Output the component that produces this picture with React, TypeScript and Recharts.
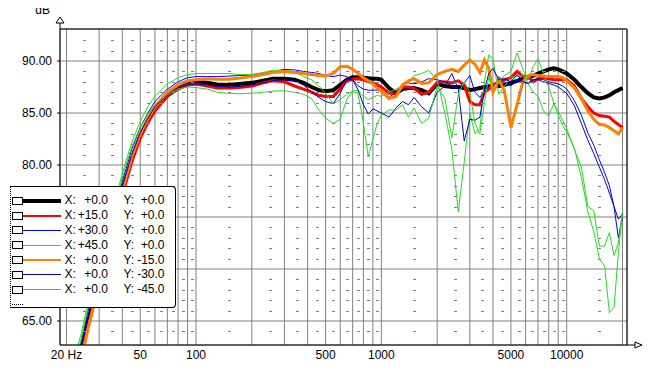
import {
  ComposedChart, Line, Scatter, XAxis, YAxis, CartesianGrid, Legend,
  ReferenceLine, ReferenceDot,
} from 'recharts';

const FONT = '"Liberation Sans", Arial, sans-serif';

// frequency points (Hz) shared by every curve
const FREQS = [
  20, 22, 24, 26, 28, 30, 33, 36, 40, 45,
  50, 55, 60, 70, 80, 90, 100, 115, 130, 150,
  170, 200, 230, 260, 300, 340, 380, 420, 460, 500,
  550, 600, 650, 700, 750, 800, 850, 900, 950, 1000,
  1100, 1200, 1300, 1400, 1500, 1650, 1800, 2000, 2200, 2400,
  2600, 2800, 3000, 3200, 3400, 3600, 3800, 4000, 4300, 4600,
  5000, 5400, 5800, 6200, 6600, 7000, 7500, 8000, 8500, 9000,
  9500, 10000, 11000, 12000, 13000, 14000, 15000, 16000, 17000, 18000,
  19000, 20000,
];

// dB readings, one list per measurement angle
const X0_Y0 = [
  58.0, 59.6, 62.0, 64.8, 67.0, 69.0, 71.7, 74.2, 77.5, 80.6,
  82.8, 84.3, 85.4, 86.7, 87.4, 87.8, 87.95, 87.9, 87.75, 87.7,
  87.8, 87.9, 88.1, 88.3, 88.3, 88.2, 87.9, 87.5, 87.2, 87.1,
  87.2, 87.7, 88.2, 88.45, 88.45, 88.4, 88.35, 88.3, 88.3, 88.2,
  87.4, 86.9, 87.3, 87.4, 87.4, 87.2, 86.9, 87.8, 87.6, 87.5,
  87.5, 87.4, 87.2, 87.3, 87.4, 87.5, 87.5, 87.6, 87.6, 87.7,
  87.9, 88.1, 88.3, 88.4, 88.6, 88.8, 89.0, 89.2, 89.3, 89.2,
  89.0, 88.8, 88.2, 87.5, 86.9, 86.5, 86.4, 86.5, 86.7, 87.0,
  87.2, 87.4,
];
const X15_Y0 = [
  57.5, 59.0, 61.5, 64.3, 66.5, 68.5, 71.3, 73.8, 77.1, 80.3,
  82.6, 84.1, 85.2, 86.6, 87.3, 87.7, 87.8, 87.6, 87.4, 87.4,
  87.45, 87.6, 87.9, 88.1, 88.0, 87.6, 87.3, 87.0, 86.7, 86.6,
  86.6, 87.3, 88.1, 88.25, 88.3, 88.2, 88.0, 87.9, 87.7, 87.5,
  86.9, 86.9, 87.5, 87.5, 87.4, 86.8, 87.0, 87.95, 88.0, 87.9,
  88.1, 87.7, 86.1, 85.8, 85.8, 87.0, 87.3, 87.7, 88.0, 88.2,
  88.4, 89.0, 88.5, 88.5, 88.0, 88.3, 88.4, 88.3, 88.2, 88.2,
  88.2, 88.2, 87.6, 86.4, 85.6, 85.0, 84.75, 84.7, 84.6, 84.2,
  83.9, 83.6,
];
const X30_Y0 = [
  58.8, 60.5, 63.0, 65.8, 68.0, 70.0, 72.7, 75.2, 78.4, 81.5,
  83.6, 85.0, 86.1, 87.3, 88.0, 88.4, 88.5, 88.5, 88.5, 88.55,
  88.6, 88.65, 88.8, 89.0, 89.2, 89.15, 89.0, 88.9, 88.8, 88.6,
  88.5, 88.65, 88.5, 88.2, 87.6, 87.3, 87.2, 87.2, 87.2, 87.1,
  86.5, 87.0, 87.8, 87.9, 87.8, 88.0, 88.3, 88.2, 88.0, 87.6,
  87.4, 87.9, 88.6, 87.0, 86.5, 87.2, 87.8, 87.3, 88.5, 88.0,
  87.6, 88.2, 88.0, 87.9, 88.2, 88.3, 88.2, 88.0, 87.9, 87.8,
  87.6, 87.3, 86.2, 84.8, 83.1, 81.9, 80.5, 79.3, 78.0, 76.0,
  73.0, 75.0,
];
const X45_Y0 = [
  59.5, 61.2, 63.8, 66.6, 68.9, 70.9, 73.6, 76.1, 79.2, 82.2,
  84.2, 85.6, 86.6, 87.8, 88.4, 88.7, 88.8, 88.8, 88.8, 88.8,
  88.7, 88.7, 88.9, 89.1, 89.05, 89.0, 88.5, 88.2, 87.6, 86.9,
  85.9, 86.3, 86.8, 87.1, 87.2, 86.6, 86.3, 86.5, 86.7, 86.6,
  87.0, 87.3, 87.6, 88.0, 88.6, 88.8, 89.1, 88.2, 85.0, 81.5,
  75.5, 80.3, 85.0, 83.0, 83.5, 88.0, 90.6, 90.2, 86.8, 87.5,
  88.5, 88.5, 88.6, 88.2, 89.5, 90.2, 88.8, 87.5, 86.0, 84.8,
  83.8, 83.2, 81.6, 78.8, 75.5, 73.6, 71.0, 70.3, 65.8, 66.3,
  71.5, 75.5,
];
const X0_Y15 = [
  57.0, 58.6, 61.2, 64.1, 66.4, 68.6, 71.5, 74.1, 77.5, 80.8,
  83.0, 84.5, 85.6, 87.0, 87.7, 88.1, 88.2, 88.3, 88.25, 88.25,
  88.35, 88.5, 88.7, 88.9, 89.0, 88.9, 88.8, 88.7, 88.6, 88.55,
  88.8, 89.45, 89.5, 89.2, 88.8, 88.4, 88.1, 87.8, 87.4, 87.1,
  86.4, 86.6, 87.7, 88.1, 88.3, 87.85, 87.9, 88.7, 89.0, 89.2,
  89.0, 89.6, 90.1, 89.7, 88.9, 90.1, 89.3, 87.0, 88.2, 87.2,
  83.6, 85.8, 88.0, 88.6, 88.7, 88.6, 88.55, 88.5, 88.5, 88.5,
  88.4, 88.1, 87.4, 86.4, 85.2, 84.4, 83.9, 83.85, 83.6, 83.3,
  83.0, 83.6,
];
const X0_Y30 = [
  58.3, 59.9, 62.4, 65.2, 67.4, 69.4, 72.1, 74.6, 77.9, 81.0,
  83.1, 84.5, 85.6, 86.8, 87.4, 87.7, 87.8, 87.7, 87.55, 87.5,
  87.55, 87.7, 87.9, 88.1, 88.2, 88.1, 87.7, 87.0, 86.5, 86.1,
  85.9, 86.9, 88.2, 88.2, 87.2, 85.8, 84.9, 85.4, 85.2, 85.0,
  84.6, 85.5, 86.1, 85.8, 86.5, 85.6, 85.0, 87.0, 87.6, 88.8,
  87.3, 82.3, 84.4, 84.3, 84.6, 87.3, 88.8, 89.3, 88.2, 88.3,
  88.0, 88.7, 88.0, 87.8, 88.2, 88.2, 88.0, 87.85, 87.7, 87.5,
  87.2, 86.9, 85.7, 84.0, 82.4, 81.1, 79.8, 78.6, 77.3, 76.0,
  74.8, 75.3,
];
const X0_Y45 = [
  59.0, 60.7, 63.3, 66.1, 68.4, 70.4, 73.1, 75.6, 78.8, 81.8,
  83.6, 84.9, 85.8, 86.8, 87.3, 87.5, 87.45, 87.3, 87.0, 86.9,
  86.85, 86.9, 87.0, 87.1, 87.15, 87.0, 86.8, 86.4, 85.3, 84.5,
  84.0, 84.4, 86.3, 87.1, 86.8, 84.0, 80.8, 82.5, 84.0, 84.8,
  85.3, 85.3, 85.8, 84.6, 85.5, 84.0, 84.5, 87.6, 86.4, 82.6,
  86.8, 88.0, 87.0, 84.0, 83.0, 86.0, 88.5, 87.5, 88.0, 88.6,
  89.0, 90.8, 89.2, 87.8, 87.0, 86.6, 85.2, 84.7, 85.9, 85.2,
  84.3, 83.5, 81.5, 79.8, 76.0, 75.6, 72.2, 72.2, 73.5, 71.3,
  72.5, 75.6,
];

const CURVES = [X0_Y0, X15_Y0, X30_Y0, X45_Y0, X0_Y15, X0_Y30, X0_Y45];
const X_ANGLES = ['+0.0', '+15.0', '+30.0', '+45.0', '+0.0', '+0.0', '+0.0'];
const Y_ANGLES = ['+0.0', '+0.0', '+0.0', '+0.0', '-15.0', '-30.0', '-45.0'];

// axes
const GRID_FREQS = [
  20, 30, 40, 50, 60, 70, 80, 90,
  100, 200, 300, 400, 500, 600, 700, 800, 900,
  1000, 2000, 3000, 4000, 5000, 6000, 7000, 8000, 9000,
  10000, 20000,
];
const LABEL_FREQS = [20, 50, 100, 500, 1000, 5000, 10000];
const LABEL_TEXTS = ['20 Hz', '50', '100', '500', '1000', '5000', '10000'];
const DB_TICKS = [65, 70, 75, 80, 85, 90];
const MINOR_DB = [64, 66, 67, 68, 69, 71, 72, 73, 74, 76, 77, 78, 79, 81, 82, 83, 84, 86, 87, 88, 89, 91, 92];
const UNIT = 'dB';

const X_MIN = 18.45;
const X_MAX = 21150;
const Y_MIN = 62.69;
const Y_MAX = 93.08;

// line styles, same order as CURVES
const STYLES = [
  { color: '#000000', width: 4, legendWidth: 4 },
  { color: '#ff0000', width: 3, legendWidth: 2 },
  { color: '#0000ff', width: 1, legendWidth: 1 },
  { color: '#22dd22', width: 1, legendWidth: 1 },
  { color: '#ff8000', width: 3, legendWidth: 2 },
  { color: '#0000c8', width: 1, legendWidth: 1 },
  { color: '#22dd22', width: 1, legendWidth: 1 },
];

const rows = FREQS.map((f, i) => {
  const row: Record<string, number> = { f };
  CURVES.forEach((c, k) => { row[`s${k}`] = c[i]; });
  return row;
});

// small grey dashes half way between the vertical grid lines
const DASH_FREQS = GRID_FREQS.slice(1).map((f, i) => (GRID_FREQS[i] + f) / 2);
const dashes = DASH_FREQS.flatMap((f) => MINOR_DB.map((db) => ({ f, db })));

function Dash(props: any) {
  const { cx, cy } = props;
  if (cx == null || cy == null) return null;
  return <rect x={Math.round(cx) - 1} y={Math.round(cy)} width={3} height={1} fill="#808080" />;
}

// arrow on top of the y axis, with the unit next to it
function YArrow(props: any) {
  const { cx, cy } = props;
  return (
    <g>
      <line x1={cx} y1={cy} x2={cx} y2={cy - 6} stroke="#000" />
      <polygon points={`${cx},${cy - 12} ${cx - 4},${cy - 6} ${cx + 4},${cy - 6}`} fill="#fff" stroke="#000" />
      <text x={cx - 10} y={cy - 15} textAnchor="end" fontSize={12} fontFamily={FONT} fill="#000">{UNIT}</text>
    </g>
  );
}

function XArrow(props: any) {
  const { cx, cy } = props;
  return (
    <g>
      <line x1={cx} y1={cy} x2={cx + 14} y2={cy} stroke="#000" />
      <polygon points={`${cx + 8},${cy - 3} ${cx + 15},${cy} ${cx + 8},${cy + 3}`} fill="#fff" stroke="#000" />
    </g>
  );
}

function FrLegend() {
  const rowH = 14.8;
  return (
    <div
      style={{
        position: 'relative', width: 166, height: 122, boxSizing: 'border-box',
        background: '#fff', borderTop: '1px solid #000', borderRight: '1px solid #000',
        borderBottom: '1px solid #000', borderLeft: '1px dotted #000',
        borderRadius: '0 4px 4px 0', fontFamily: FONT, fontSize: 12, color: '#000',
        whiteSpace: 'nowrap',
      }}
    >
      {X_ANGLES.map((xa, i) => {
        const mid = 13.7 + i * rowH;
        const st = STYLES[i];
        const textTop = mid - rowH / 2;
        return (
          <div key={i}>
            <div style={{ position: 'absolute', left: 1, top: mid - 4, width: 11, height: 8, border: '1px solid #000', boxSizing: 'border-box', background: '#fff' }} />
            <div style={{ position: 'absolute', left: 12, top: mid - st.legendWidth / 2, width: 38, height: st.legendWidth, background: st.color }} />
            <span style={{ position: 'absolute', left: 53.5, top: textTop, lineHeight: `${rowH}px` }}>X:</span>
            <span style={{ position: 'absolute', left: 66, width: 31, textAlign: 'right', top: textTop, lineHeight: `${rowH}px` }}>{xa}</span>
            <span style={{ position: 'absolute', left: 112.5, top: textTop, lineHeight: `${rowH}px` }}>Y:</span>
            <span style={{ position: 'absolute', left: 124.5, width: 29, textAlign: 'right', top: textTop, lineHeight: `${rowH}px` }}>{Y_ANGLES[i]}</span>
          </div>
        );
      })}
      <div style={{ position: 'absolute', left: 1, top: 117, width: 11, borderTop: '1px dotted #000' }} />
    </div>
  );
}

const tickStyle = { fill: '#000', fontSize: 12, fontFamily: FONT };

export default function App() {
  return (
    <div style={{ margin: -8, width: 652, height: 376, background: '#fff' }}>
      <ComposedChart width={652} height={376} data={rows} margin={{ top: 29, right: 25, bottom: 0, left: 0 }}>
        <CartesianGrid stroke="#808080" />
        <XAxis
          dataKey="f"
          type="number"
          scale="log"
          domain={[X_MIN, X_MAX]}
          allowDataOverflow
          ticks={GRID_FREQS}
          interval={0}
          tickFormatter={(v: number) => {
            const k = LABEL_FREQS.indexOf(v);
            return k >= 0 ? LABEL_TEXTS[k] : '';
          }}
          tickLine={false}
          tickSize={3}
          tickMargin={2}
          axisLine={{ stroke: '#000' }}
          tick={tickStyle}
          height={31}
        />
        <YAxis
          type="number"
          domain={[Y_MIN, Y_MAX]}
          allowDataOverflow
          ticks={DB_TICKS}
          interval={0}
          tickFormatter={(v: number) => v.toFixed(2)}
          width={60}
          tickSize={3}
          tickMargin={5}
          tickLine={{ stroke: '#000' }}
          axisLine={{ stroke: '#000' }}
          tick={tickStyle}
        />
        <Scatter data={dashes} dataKey="db" shape={Dash} isAnimationActive={false} />
        <ReferenceLine y={Y_MAX} stroke="#000" />
        <ReferenceLine x={X_MAX} stroke="#000" />
        {CURVES.map((_, i) => (
          <Line
            key={i}
            type="linear"
            dataKey={`s${i}`}
            stroke={STYLES[i].color}
            strokeWidth={STYLES[i].width}
            dot={false}
            activeDot={false}
            isAnimationActive={false}
          />
        ))}
        <ReferenceDot x={X_MIN} y={Y_MAX} ifOverflow="visible" shape={YArrow} />
        <ReferenceDot x={X_MAX} y={Y_MIN} ifOverflow="visible" shape={XArrow} />
        <Legend
          layout="horizontal"
          verticalAlign="middle"
          align="center"
          content={() => <FrLegend />}
          wrapperStyle={{ left: 10, top: 186, width: 166, height: 122 }}
        />
      </ComposedChart>
    </div>
  );
}
